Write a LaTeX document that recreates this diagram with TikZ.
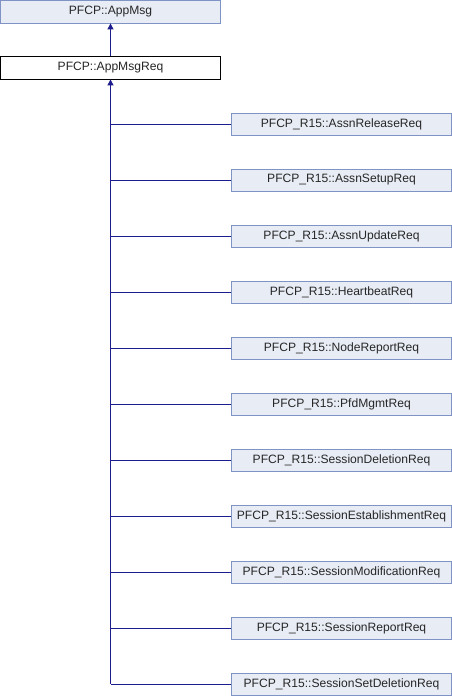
\documentclass[tikz,border=0pt]{standalone}
\usepackage{fontspec}
\setmainfont{Liberation Sans}
\usetikzlibrary{arrows.meta}
\definecolor{boxfill}{HTML}{E8ECF5}
\definecolor{boxline}{HTML}{7F93C5}
\definecolor{edgecol}{HTML}{1C1C8C}
\begin{document}
\begin{tikzpicture}[x=1pt,y=-1pt,
  cls/.style={draw=boxline,fill=boxfill,line width=0.8pt,minimum width=220pt,minimum height=22pt,inner sep=0pt,font=\fontsize{12.1}{14}\selectfont,text=black!85},
  cur/.style={cls,draw=black,fill=white},
  edge/.style={draw=edgecol,line width=0.9pt},
  inh/.style={edge,-{Triangle[length=6pt,width=6pt]}}]
\useasboundingbox (0,0) rectangle (452,696);
\node[cls,minimum height=23pt] (appmsg) at (110.5,11.5) {PFCP::AppMsg};
\node[cur,minimum height=23pt] (appmsgreq) at (110.5,67.5) {PFCP::AppMsgReq};
\draw[inh] (appmsgreq.north) -- (appmsg.south);
\foreach \n/\t [count=\i from 0] in {c1/AssnReleaseReq,c2/AssnSetupReq,c3/AssnUpdateReq,c4/HeartbeatReq,c5/NodeReportReq,c6/PfdMgmtReq,c7/SessionDeletionReq,c8/SessionEstablishmentReq,c9/SessionModificationReq,c10/SessionReportReq,c11/SessionSetDeletionReq}{
  \node[cls] (\n) at (341.5,124+56*\i) {PFCP\_R15::\t};
  \draw[edge] (\n.west) -- (110.5,124+56*\i);
}
\coordinate (jbot) at (110.5,684);
\draw[inh] (jbot) -- (appmsgreq.south);
\end{tikzpicture}
\end{document}
